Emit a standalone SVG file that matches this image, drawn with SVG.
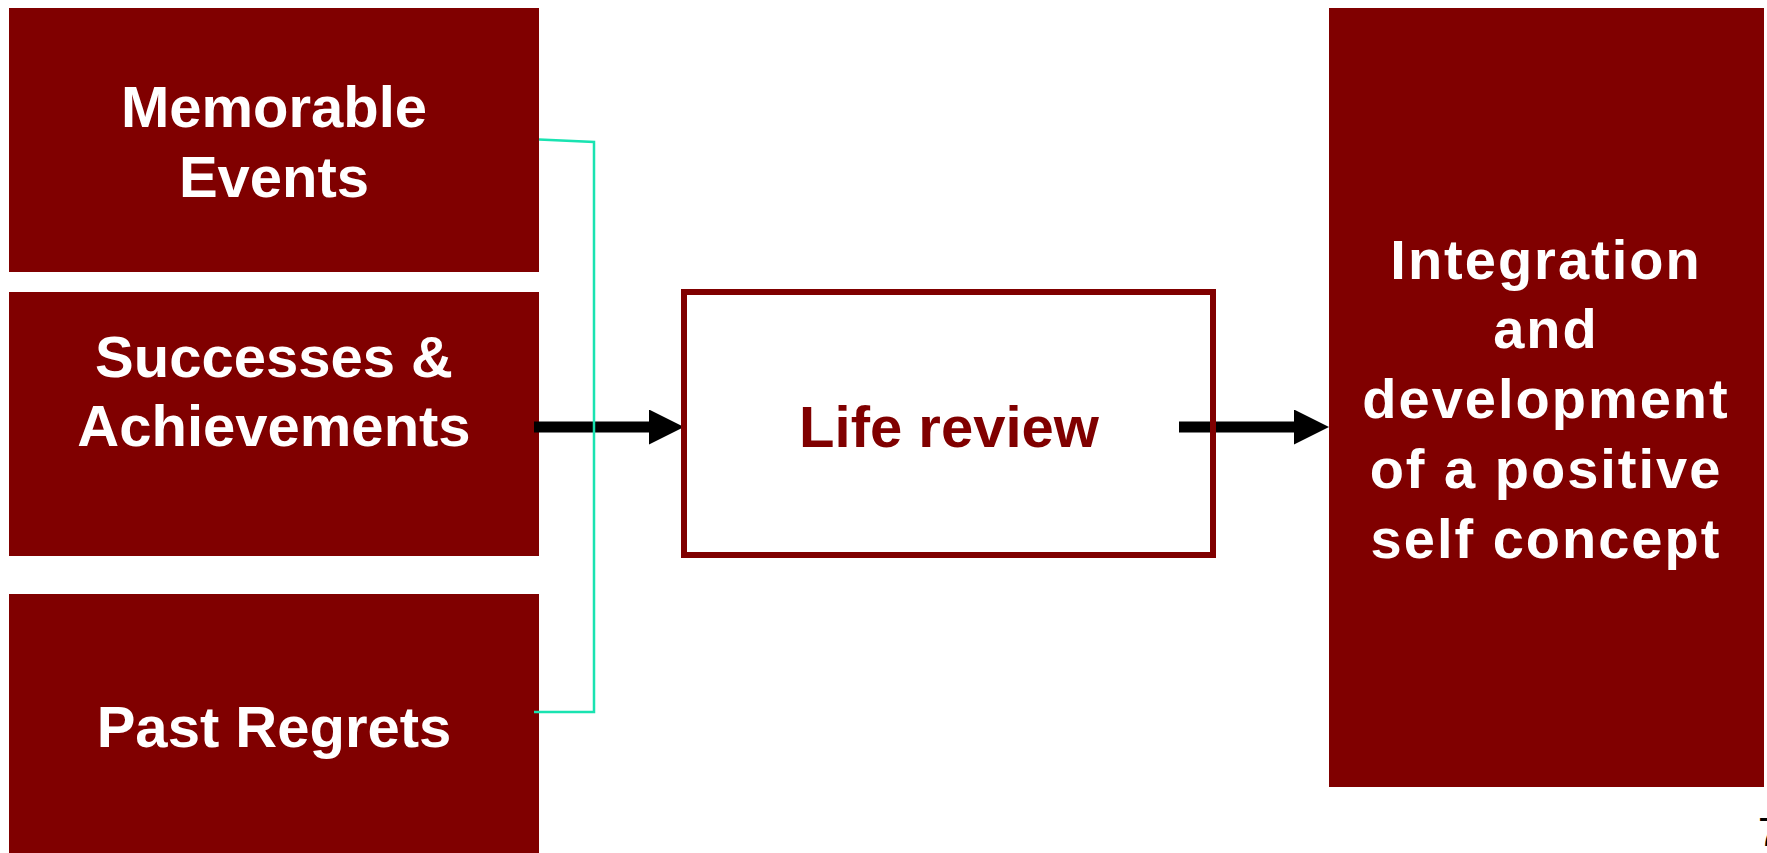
<svg xmlns="http://www.w3.org/2000/svg" width="1767" height="853" viewBox="0 0 1767 853">
  <style>
    .box { fill: #800000; }
    .lbl { font-family: "Liberation Sans", Arial, sans-serif; font-weight: bold; font-size: 58px; fill: #ffffff; text-anchor: middle; }
    .rlbl { font-family: "Liberation Sans", Arial, sans-serif; font-weight: bold; font-size: 56px; fill: #ffffff; text-anchor: middle; letter-spacing: 2px; }
    .mid { fill: #ffffff; stroke: #800000; stroke-width: 6; }
    .midlbl { font-family: "Liberation Sans", Arial, sans-serif; font-weight: bold; font-size: 58px; fill: #800000; text-anchor: middle; }
    .arrow { stroke: #000000; stroke-width: 11; fill: none; }
    .bracket { stroke: #19e3b1; stroke-width: 2.5; fill: none; }
    .pg { font-family: "Liberation Sans", Arial, sans-serif; font-size: 40px; fill: #000000; }
  </style>
  <defs>
    <marker id="ah" markerUnits="userSpaceOnUse" markerWidth="36" markerHeight="36" refX="1" refY="17.5" orient="auto">
      <path d="M0,0 L35,17.5 L0,35 Z" fill="#000000"/>
    </marker>
  </defs>

  <g id="node-memorable">
    <rect class="box" x="9" y="8" width="530" height="264"/>
    <text class="lbl" x="274" y="127">Memorable</text>
    <text class="lbl" x="274" y="197">Events</text>
  </g>
  <g id="node-successes">
    <rect class="box" x="9" y="292" width="530" height="264"/>
    <text class="lbl" x="274" y="377">Successes &amp;</text>
    <text class="lbl" x="274" y="446">Achievements</text>
  </g>
  <g id="node-regrets">
    <rect class="box" x="9" y="594" width="530" height="259"/>
    <text class="lbl" x="274" y="747">Past Regrets</text>
  </g>

  <g id="connectors">
    <line class="arrow" x1="534" y1="427" x2="650" y2="427" marker-end="url(#ah)"/>
    <line class="arrow" x1="1179" y1="427" x2="1295" y2="427" marker-end="url(#ah)"/>
  </g>

  <g id="node-life-review">
    <rect class="mid" x="684" y="292" width="529" height="263" fill="none" style="fill:none"/>
    <text class="midlbl" x="949" y="447">Life review</text>
  </g>

  <g id="node-integration">
    <rect class="box" x="1329" y="8" width="435" height="779"/>
    <text class="rlbl" x="1546" y="279">Integration</text>
    <text class="rlbl" x="1546" y="348">and</text>
    <text class="rlbl" x="1546" y="418">development</text>
    <text class="rlbl" x="1546" y="488">of a positive</text>
    <text class="rlbl" x="1546" y="558">self concept</text>
  </g>

  <g id="bracket">
    <path class="bracket" d="M539,139.5 L594,142 L594,712 L534,712"/>
  </g>

  <text class="pg" x="1758" y="846">7</text>
</svg>
